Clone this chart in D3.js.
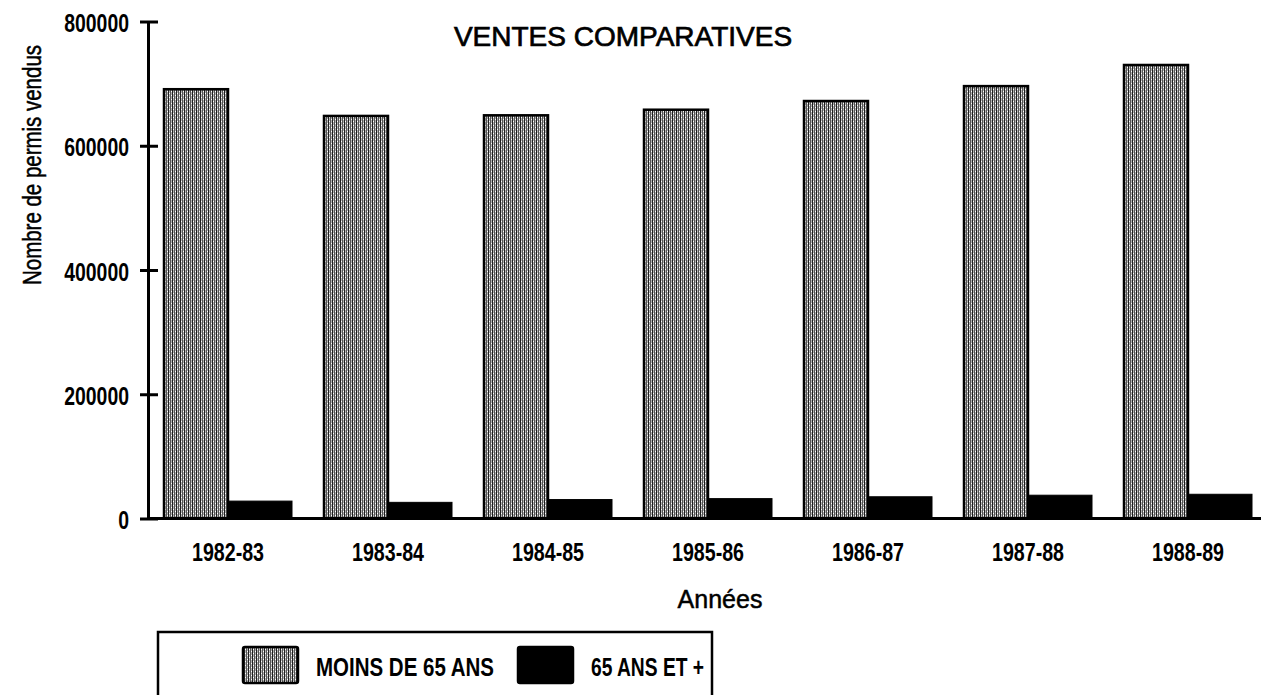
<!DOCTYPE html>
<html><head><meta charset="utf-8">
<script src="https://cdn.jsdelivr.net/npm/d3@7"></script>
<style>
html,body{margin:0;padding:0;background:#fff;}
svg{display:block;}
text{font-family:"Liberation Sans",Arial,Helvetica,sans-serif;fill:#000;}
</style>
</head><body>
<svg id="c" width="1261" height="695"></svg>
<script>
const categories = ["1982-83","1983-84","1984-85","1985-86","1986-87","1987-88","1988-89"];
const moins65 = [691000, 648000, 649000, 658000, 672000, 696000, 730000];
const plus65 = [28000, 26000, 30500, 32000, 35000, 37500, 39000];
const yTicks = [0, 200000, 400000, 600000, 800000];
const seriesNames = ["MOINS DE 65 ANS", "65 ANS ET +"];

const svg = d3.select("#c");
const defs = svg.append("defs");
const pat = defs.append("pattern").attr("id","grain").attr("patternUnits","userSpaceOnUse")
  .attr("width",4).attr("height",4);
pat.append("rect").attr("width",4).attr("height",4).attr("fill","#b0b0b0");
pat.append("rect").attr("x",0).attr("y",0).attr("width",1).attr("height",4).attr("fill","#202020");
pat.append("rect").attr("x",2).attr("y",0).attr("width",1).attr("height",4).attr("fill","#555555");
pat.append("rect").attr("x",1).attr("y",1).attr("width",1).attr("height",1).attr("fill","#ffffff");
pat.append("rect").attr("x",3).attr("y",3).attr("width",1).attr("height",1).attr("fill","#ffffff");

const y = d3.scaleLinear().domain([0,800000]).range([518.5, 21.5]);
const x0 = d3.scaleBand().domain(categories).range([148, 1268]).paddingInner(0.2).paddingOuter(0.1);
const x1 = d3.scaleBand().domain([0,1]).range([0, x0.bandwidth()]);

const groups = svg.append("g").selectAll("g").data(categories).join("g")
  .attr("transform", d => `translate(${x0(d)},0)`);

groups.append("rect")
  .attr("x", x1(0)).attr("width", x1.bandwidth())
  .attr("y", (d,i) => y(moins65[i])).attr("height", (d,i) => y(0) - y(moins65[i]))
  .attr("fill","url(#grain)").attr("stroke","#000").attr("stroke-width",2.5);
groups.append("rect")
  .attr("x", x1(1)).attr("width", x1.bandwidth())
  .attr("y", (d,i) => y(plus65[i])).attr("height", (d,i) => y(0) - y(plus65[i]))
  .attr("fill","#000").attr("stroke","#000").attr("stroke-width",1);

// x baseline
svg.append("line").attr("x1",148).attr("x2",1261).attr("y1",y(0)).attr("y2",y(0))
  .attr("stroke","#000").attr("stroke-width",3);

// y axis
const yAxis = d3.axisLeft(y).tickValues(yTicks).tickFormat(d3.format("d")).tickSize(0).tickPadding(0);
const ga = svg.append("g").attr("transform","translate(148,0)").call(yAxis);
ga.select(".domain").attr("stroke","#000").attr("stroke-width",3);
ga.selectAll(".tick").append("line").attr("x1",-8).attr("x2",10).attr("stroke","#000").attr("stroke-width",3);
ga.selectAll(".tick text").attr("x",-19).attr("dy","0.4em")
  .attr("font-size",25).attr("font-weight","bold").attr("fill","#000")
  .attr("font-family","'Liberation Sans',Arial,sans-serif")
  .attr("textLength", d => String(d).length * 10.8).attr("lengthAdjust","spacingAndGlyphs");

// x labels
const xAxis = d3.axisBottom(x0).tickSize(0).tickPadding(0);
const gx = svg.append("g").attr("transform",`translate(0,${y(0)})`).call(xAxis);
gx.select(".domain").remove();
gx.selectAll(".tick text").attr("dy",0).attr("y",42)
  .attr("font-size",25).attr("font-weight","bold").attr("fill","#000")
  .attr("font-family","'Liberation Sans',Arial,sans-serif")
  .attr("textLength",72).attr("lengthAdjust","spacingAndGlyphs");

// titles
svg.append("text").attr("x",623).attr("y",46).attr("text-anchor","middle")
  .attr("font-size",28).attr("stroke","#000").attr("stroke-width",0.7).text("VENTES COMPARATIVES");
svg.append("text").attr("x",720).attr("y",608).attr("text-anchor","middle")
  .attr("font-size",25).attr("stroke","#000").attr("stroke-width",0.5).text("Années");
svg.append("text").attr("transform","rotate(-90)").attr("x",-165).attr("y",41)
  .attr("text-anchor","middle").attr("font-size",25).attr("stroke","#000").attr("stroke-width",0.5)
  .attr("textLength",240).attr("lengthAdjust","spacingAndGlyphs").text("Nombre de permis vendus");

// legend
svg.append("rect").attr("x",158).attr("y",632).attr("width",554).attr("height",80)
  .attr("fill","none").attr("stroke","#000").attr("stroke-width",2.5);
const leg = [{x:243, fill:"url(#grain)", w:178},{x:518, fill:"#000", w:113}];
svg.selectAll(".lg").data(seriesNames).join("rect").attr("class","lg")
  .attr("x",(d,i)=>leg[i].x).attr("y",647).attr("width",55).attr("height",36)
  .attr("fill",(d,i)=>leg[i].fill).attr("stroke","#000").attr("stroke-width",2.5).attr("rx",2);
svg.selectAll(".lt").data(seriesNames).join("text").attr("class","lt")
  .attr("x",(d,i)=>leg[i].x+73).attr("y",676).attr("font-size",25).attr("font-weight","bold")
  .attr("textLength",(d,i)=>leg[i].w).attr("lengthAdjust","spacingAndGlyphs").text(d=>d);
</script>
</body></html>
